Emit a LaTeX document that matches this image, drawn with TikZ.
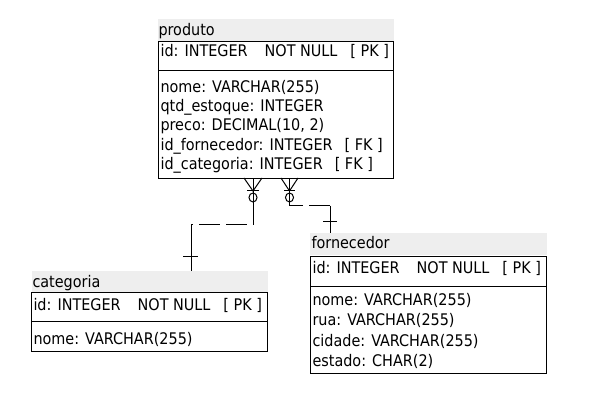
\documentclass[tikz,border=0pt]{standalone}
\usepackage{fontspec}
\setmainfont{DejaVu Sans Condensed}
\definecolor{hdrgray}{HTML}{EEEEEE}
\begin{document}
\begin{tikzpicture}[x=1pt,y=-1pt,line width=1pt,
  hdr/.style={fill=hdrgray,draw=none,inner sep=0pt,anchor=north west},
  tbox/.style={draw=black,fill=white,inner sep=0pt,anchor=north west},
  txt/.style={anchor=base west,inner sep=0pt,font=\fontsize{16}{19}\selectfont},
  dashpat/.style={dash pattern=on 21pt off 6pt}]
\fill[white] (0,0) rectangle (603,411);
\useasboundingbox (0,0) rectangle (603,411);

% ---- produto ----
\node[hdr,minimum width=236pt,minimum height=22pt] (prodhdr) at (157,19) {};
\node[txt] (prodtitle) at (158,35.5) {produto};
\node[tbox,minimum width=235pt,minimum height=137pt] (prodbox) at (158,41) {};
\draw (prodbox.west |- 0,71) -- (prodbox.east |- 0,71);
\node[txt] (p0) at (160,56.5) {id: INTEGER\hspace{17pt}NOT NULL\hspace{13pt}[ PK ]};
\node[txt] (p1) at (160,92.5) {nome: VARCHAR(255)};
\node[txt] (p2) at (160,111.5) {qtd\_estoque: INTEGER};
\node[txt] (p3) at (160,131) {preco: DECIMAL(10, 2)};
\node[txt] (p4) at (160,150.5) {id\_fornecedor: INTEGER\hspace{12pt}[ FK ]};
\node[txt] (p5) at (160,170) {id\_categoria: INTEGER\hspace{12pt}[ FK ]};

% ---- categoria ----
\node[hdr,minimum width=236pt,minimum height=21pt] (cathdr) at (31,271) {};
\node[txt] (cattitle) at (32,287.5) {categoria};
\node[tbox,minimum width=236pt,minimum height=59pt] (catbox) at (31,292) {};
\draw (catbox.west |- 0,322) -- (catbox.east |- 0,322);
\node[txt] (c0) at (33,310.5) {id: INTEGER\hspace{17pt}NOT NULL\hspace{13pt}[ PK ]};
\node[txt] (c1) at (33,344.5) {nome: VARCHAR(255)};

% ---- fornecedor ----
\node[hdr,minimum width=237pt,minimum height=22pt] (fornhdr) at (309,233) {};
\node[txt] (forntitle) at (311,248.5) {fornecedor};
\node[tbox,minimum width=236pt,minimum height=117pt] (fornbox) at (310,256) {};
\draw (fornbox.west |- 0,287) -- (fornbox.east |- 0,287);
\node[txt] (f0) at (312,273.5) {id: INTEGER\hspace{17pt}NOT NULL\hspace{13pt}[ PK ]};
\node[txt] (f1) at (312,305.5) {nome: VARCHAR(255)};
\node[txt] (f2) at (312,326) {rua: VARCHAR(255)};
\node[txt] (f3) at (312,346.5) {cidade: VARCHAR(255)};
\node[txt] (f4) at (312,366.5) {estado: CHAR(2)};

% ---- produto -> categoria ----
\coordinate (l1) at (253,225);
\coordinate (l2) at (191,225);
\draw (prodbox.south -| l1) -- (l1);
\draw (244,178) -- (253,191) -- (262,178);
\draw (247,191) -- (259,191);
\draw (253,197.5) ellipse [x radius=4pt,y radius=4.5pt];
\draw[dashpat,dash phase=19pt] (l2) -- (l1);
\draw (l2) -- (l2 |- cathdr.north);
\draw (183,257) -- (198,257);

% ---- produto -> fornecedor ----
\coordinate (r1) at (289.5,206);
\coordinate (r2) at (330,206);
\draw (prodbox.south -| r1) -- (r1);
\draw (281,178) -- (289.5,191) -- (298,178);
\draw (284,191) -- (295,191);
\draw (289.5,197.5) ellipse [x radius=4pt,y radius=4.5pt];
\draw[dashpat] (r2) -- (r1);
\draw (r2) -- (r2 |- fornhdr.north);
\draw (323,222) -- (337,222);
\end{tikzpicture}
\end{document}
